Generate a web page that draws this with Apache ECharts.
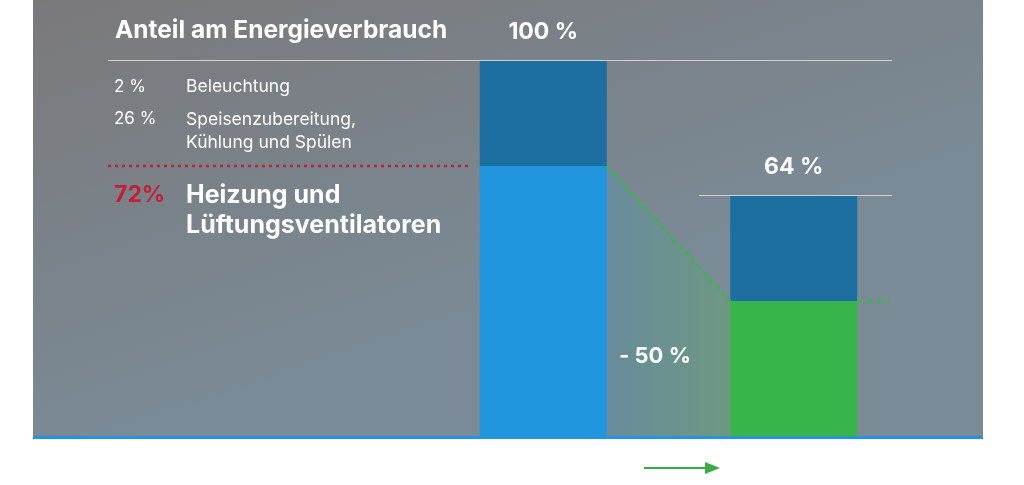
<!DOCTYPE html>
<html>
<head>
<meta charset="utf-8">
<title>Anteil am Energieverbrauch</title>
<script src="https://cdn.jsdelivr.net/npm/echarts@6/dist/echarts.min.js"></script>
<style>
  html, body { margin: 0; padding: 0; background: #fff; }
  #container { width: 1024px; height: 485px; }
</style>
</head>
<body>
<div id="container"></div>
<script type="text/javascript">
// data
var categories = ['vorher', 'nachher'];
var heizung = [72, 36];          // Heizung und Lüftungsventilatoren
var sonstiges = [28, 28];        // Beleuchtung + Speisen/Kühlung/Spülen
var totals = ['100 %', '64 %'];
var legendRows = [
  ['2 %', 'Beleuchtung'],
  ['26 %', 'Speisenzubereitung,\nKühlung und Spülen']
];
var heizLabel = ['72%', 'Heizung und\nLüftungsventilatoren'];
var reduction = '- 50 %';

var FONT = 'Inter';
var dom = document.getElementById('container');
var myChart = echarts.init(dom);

var option = {
  animation: false,
  grid: { left: 418, right: 105, top: 61, bottom: 49 },
  xAxis: {
    type: 'category',
    data: categories,
    axisLine: { show: false },
    axisTick: { show: false },
    axisLabel: { show: false }
  },
  yAxis: {
    type: 'value', min: 0, max: 100,
    show: false,
    splitLine: { show: false }
  },
  series: [
    {
      name: 'Heizung', type: 'bar', stack: 'a', barWidth: 127, z: 5,
      data: heizung.map(function (v, i) {
        return { value: v, itemStyle: { color: i === 0 ? '#2196de' : '#39b44a' } };
      })
    },
    {
      name: 'Sonstiges', type: 'bar', stack: 'a', barWidth: 127, z: 5,
      itemStyle: { color: '#1d6fa1' },
      label: {
        show: true, position: 'top', distance: 17,
        color: '#fff', fontFamily: FONT, fontWeight: 'bold', fontSize: 23,
        formatter: function (p) { return totals[p.dataIndex]; }
      },
      data: sonstiges
    }
  ]
};
myChart.setOption(option);

function px(cat, v) { return myChart.convertToPixel({ gridIndex: 0 }, [cat, v]); }

var half = 127 / 2;
var p0 = px(categories[0], 0), p1 = px(categories[1], 0);
var b1r = p0[0] + half, b2l = p1[0] - half, b2r = p1[0] + half;
var y100 = px(categories[0], 100)[1];
var y72 = px(categories[0], heizung[0])[1];
var y36 = px(categories[1], heizung[1])[1];
var yTop2 = px(categories[1], heizung[1] + sonstiges[1])[1];
var y0 = p0[1];

myChart.setOption({
  graphic: [
    { type: 'rect', z: -10, shape: { x: 33, y: 0, width: 950, height: y0 },
      style: { fill: new echarts.graphic.LinearGradient(0, 0, 0.15, 1, [
        { offset: 0, color: '#7a797a' }, { offset: 1, color: '#7a8b97' }]) } },
    { type: 'rect', z: 10, shape: { x: 33, y: y0, width: 950, height: 3 }, style: { fill: '#2196e0' } },
    // shaded reduction area
    { type: 'polygon', z: -5, shape: { points: [[b1r, y72], [b2l, y36], [b2l, y0], [b1r, y0]] },
      style: { fill: new echarts.graphic.LinearGradient(0, 0, 1, 0, [
        { offset: 0, color: '#688c9c' }, { offset: 1, color: '#6e9782' }]) } },
    // thin white rules
    { type: 'line', z: 1, shape: { x1: 108, y1: y100 - 0.5, x2: 892, y2: y100 - 0.5 }, style: { stroke: '#cfcfcf', lineWidth: 1 } },
    { type: 'line', z: 1, shape: { x1: 699, y1: yTop2 - 0.5, x2: 892, y2: yTop2 - 0.5 }, style: { stroke: '#cfcfcf', lineWidth: 1 } },
    // dotted lines
    { type: 'line', z: 1, shape: { x1: 108, y1: y72, x2: 472, y2: y72 }, style: { stroke: '#c0213a', lineWidth: 2.5, lineDash: [3, 4] } },
    { type: 'line', z: 8, shape: { x1: b1r, y1: y72, x2: b2l, y2: y36 }, style: { stroke: '#3bb54a', lineWidth: 3, lineDash: [4, 5] } },
    { type: 'line', z: 8, shape: { x1: b2r, y1: y36, x2: 890, y2: y36 }, style: { stroke: '#3bb54a', lineWidth: 3, lineDash: [5, 5] } },
    // texts
    { type: 'text', z: 20, x: 115, y: 31, style: { text: 'Anteil am Energieverbrauch', fill: '#fff', font: 'bold 24.5px ' + FONT, verticalAlign: 'middle' } },
    { type: 'text', z: 20, x: 114, y: 87, style: { text: legendRows[0][0], fill: '#fff', font: '17px ' + FONT, verticalAlign: 'middle' } },
    { type: 'text', z: 20, x: 186, y: 87, style: { text: legendRows[0][1], fill: '#fff', font: '17.5px ' + FONT, verticalAlign: 'middle' } },
    { type: 'text', z: 20, x: 114, y: 119, style: { text: legendRows[1][0], fill: '#fff', font: '17px ' + FONT, verticalAlign: 'middle' } },
    { type: 'text', z: 20, x: 186, y: 108, style: { text: legendRows[1][1], fill: '#fff', font: '17.5px ' + FONT, lineHeight: 23, verticalAlign: 'top' } },
    { type: 'text', z: 20, x: 114, y: 195, style: { text: heizLabel[0], fill: '#c0213a', font: 'bold 23px ' + FONT, verticalAlign: 'middle' } },
    { type: 'text', z: 20, x: 186, y: 180, style: { text: heizLabel[1], fill: '#fff', font: 'bold 25px ' + FONT, lineHeight: 30, verticalAlign: 'top' } },
    { type: 'text', z: 20, x: 655, y: 356, style: { text: reduction, fill: '#fff', font: 'bold 22px ' + FONT, align: 'center', verticalAlign: 'middle' } },
    // arrow
    { type: 'line', z: 20, shape: { x1: 644, y1: 468, x2: 707, y2: 468 }, style: { stroke: '#3aaa4b', lineWidth: 2 } },
    { type: 'polygon', z: 20, shape: { points: [[705, 462], [720, 468], [705, 474]] }, style: { fill: '#3aaa4b' } }
  ]
});
</script>
</body>
</html>
